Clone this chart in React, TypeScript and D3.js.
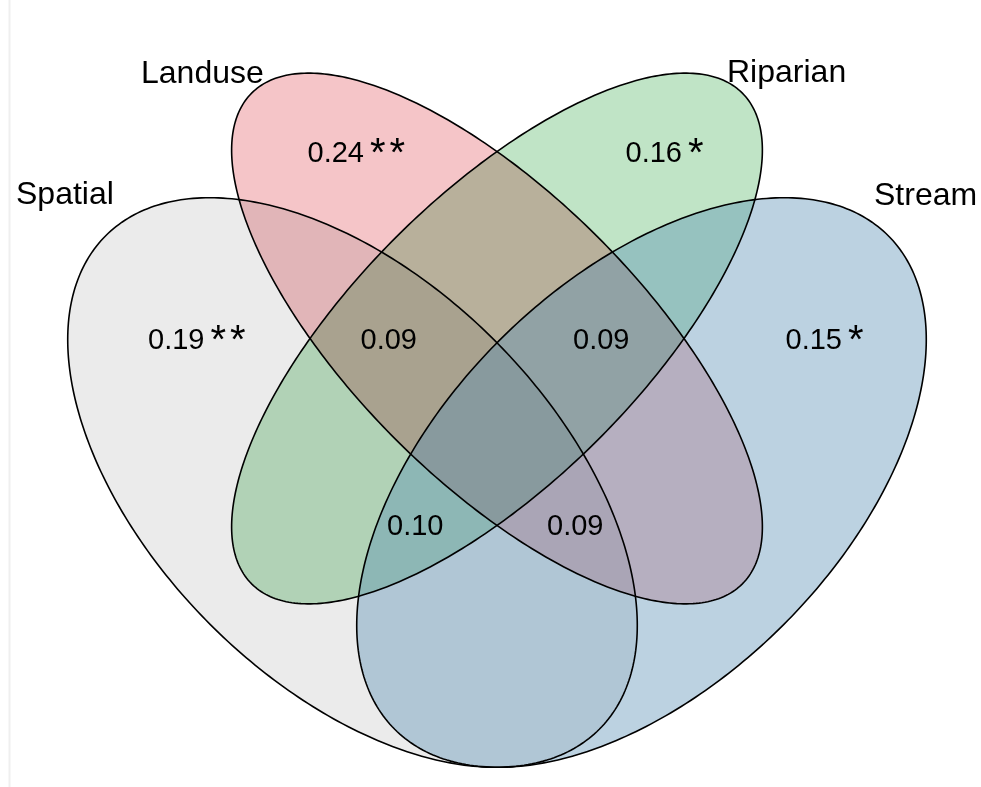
import React, { useEffect } from "react";
import * as d3 from "d3";

const W = 981;
const H = 787;

// sets, drawn in this order
const setNames = ["Spatial", "Landuse", "Riparian", "Stream"];
const setColors = ["#ebebeb", "#f5c5c8", "#c0e4c6", "#578eb4"];
const setOpacity = [1, 1, 1, 0.4];
const setBlend = ["multiply", "multiply", "multiply", "normal"];

// values shown in the regions
const regionValues = ["0.19", "0.24", "0.16", "0.15", "0.09", "0.09", "0.10", "0.09"];
const regionStars = ["**", "**", "*", "*", "", "", "", ""];

// ellipse geometry for each set (px): centre, semi axes, rotation
const shapeLayout = [
  { cx: 352.5, cy: 482.5, a: 349, b: 201, rot: 45 },
  { cx: 497, cy: 338.5, a: 347, b: 143, rot: 45 },
  { cx: 497, cy: 338.5, a: 347, b: 143, rot: -45 },
  { cx: 641.5, cy: 482.5, a: 349, b: 201, rot: -45 },
];

// label placement (left x, baseline y)
const setLabelPos = [[16, 204], [141, 83], [727, 82], [874, 205]];
const regionLabelPos = [
  [148, 349], [307.5, 162], [625.5, 162], [785.5, 349],
  [360.5, 349], [573, 349], [387, 535], [547, 535],
];

const FONT = "'Liberation Sans', Arial, Helvetica, sans-serif";

function ellipsePath(s) {
  const r = (s.rot * Math.PI) / 180;
  const pts = d3.range(0, 360, 1).map((deg) => {
    const t = (deg * Math.PI) / 180;
    const u = s.a * Math.cos(t);
    const v = s.b * Math.sin(t);
    return [s.cx + u * Math.cos(r) - v * Math.sin(r), s.cy + u * Math.sin(r) + v * Math.cos(r)];
  });
  return d3.line().curve(d3.curveLinearClosed)(pts);
}

export default function App() {
  useEffect(() => {
    document.body.style.margin = "0";
  }, []);

  const paths = shapeLayout.map(ellipsePath);

  return (
    <svg width={W} height={H} style={{ display: "block" }} fontFamily={FONT}>
      <rect width={W} height={H} fill="#fff" />
      <line x1={9.5} x2={9.5} y1={0} y2={H} stroke="#efefef" strokeWidth={2} />
      <g style={{ isolation: "isolate" }}>
        {paths.map((d, i) => (
          <path
            key={"f" + i}
            d={d}
            fill={setColors[i]}
            fillOpacity={setOpacity[i]}
            stroke="none"
            style={{ mixBlendMode: setBlend[i] }}
          />
        ))}
      </g>
      <g fill="none" stroke="#000" strokeWidth={1.6}>
        {paths.map((d, i) => (
          <path key={"s" + i} d={d} />
        ))}
      </g>
      {setNames.map((n, i) => (
        <text key={n} x={setLabelPos[i][0]} y={setLabelPos[i][1]} fontSize={32} fill="#000">
          {n}
        </text>
      ))}
      {regionValues.map((v, i) => (
        <text key={"r" + i} x={regionLabelPos[i][0]} y={regionLabelPos[i][1]} fontSize={29} fill="#000">
          {v}
          {regionStars[i] && (
            <tspan dx={6} dy={4} fontSize={40} letterSpacing={4}>
              {regionStars[i]}
            </tspan>
          )}
        </text>
      ))}
    </svg>
  );
}
